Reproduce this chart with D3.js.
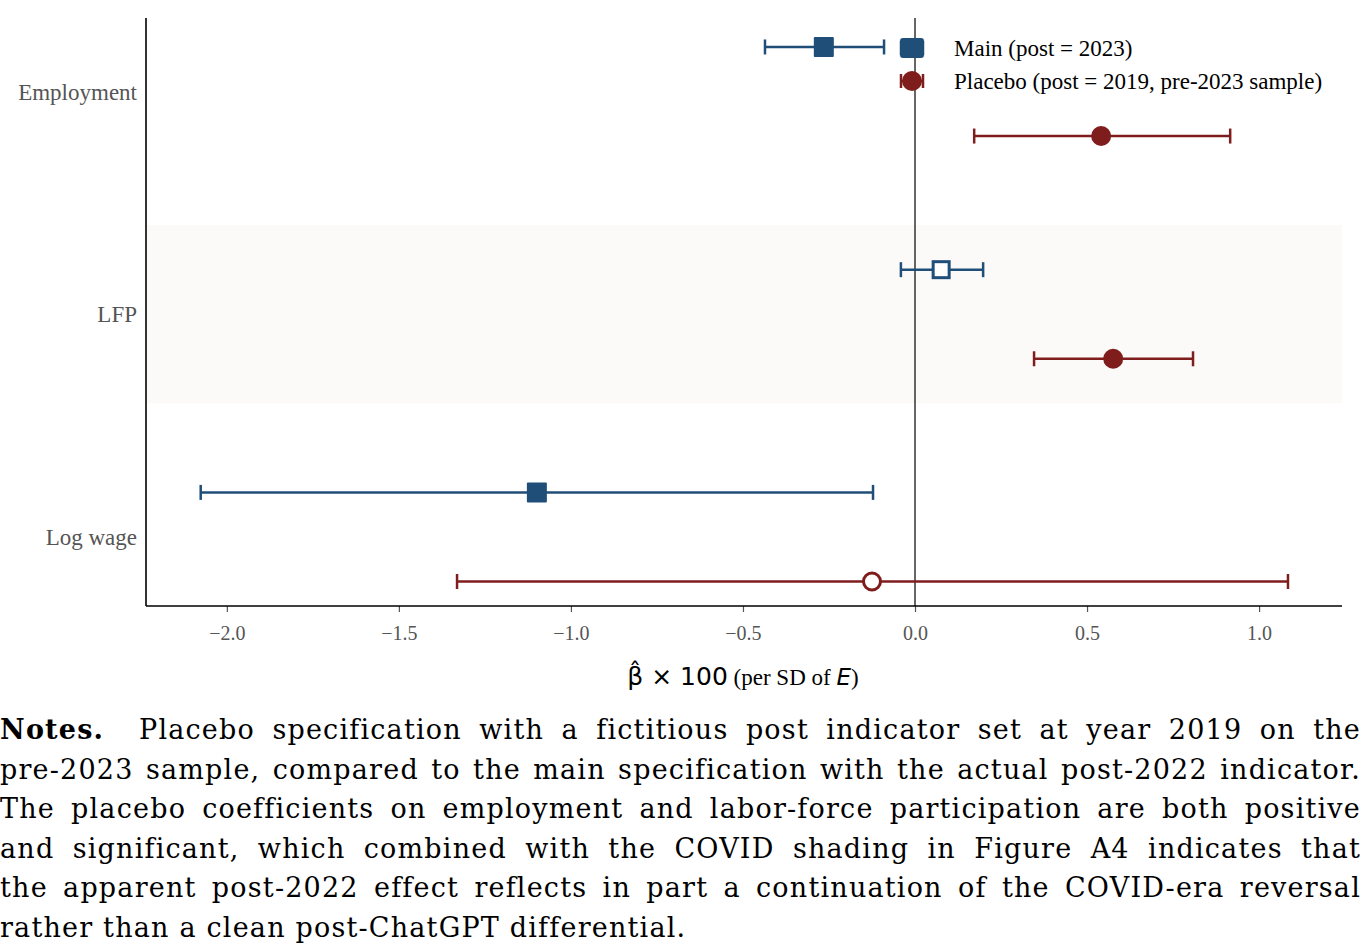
<!DOCTYPE html>
<html>
<head>
  <meta charset="utf-8">
  <style type="text/css">
    body { margin: 0; background: #fff; }
    #chart { position: absolute; left: 0; top: 0; }
    #notes {
      position: absolute; left: 0; top: 710px; width: 1361px;
      font-family: "DejaVu Serif", serif; font-size: 27px; line-height: 39.5px;
      letter-spacing: 1.2px; color: #000;
    }
    #notes div { text-align: justify; text-align-last: justify; white-space: nowrap; }
    #notes div.last { text-align-last: left; }
  </style>
  <script src="https://d3js.org/d3.v7.min.js"></script>
</head>
<body>
  <div id="chart"></div>
  <div id="notes">
    <div><b>Notes.</b>&nbsp; Placebo specification with a fictitious post indicator set at year 2019 on the</div>
    <div>pre-2023 sample, compared to the main specification with the actual post-2022 indicator.</div>
    <div>The placebo coefficients on employment and labor-force participation are both positive</div>
    <div>and significant, which combined with the COVID shading in Figure A4 indicates that</div>
    <div>the apparent post-2022 effect reflects in part a continuation of the COVID-era reversal</div>
    <div class="last">rather than a clean post-ChatGPT differential.</div>
  </div>
  <script type="text/javascript">
  (function() {
    "use strict";

    // data
    var categories = ["Employment", "LFP", "Log wage"];
    var mainEst = [-0.265, 0.076, -1.099];
    var mainLo = [-0.436, -0.041, -2.076];
    var mainHi = [-0.090, 0.198, -0.122];
    var placeboEst = [0.541, 0.576, -0.125];
    var placeboLo = [0.172, 0.346, -1.331];
    var placeboHi = [0.916, 0.808, 1.084];
    var xTicks = [-2.0, -1.5, -1.0, -0.5, 0.0, 0.5, 1.0];

    var blue = "#1f4e79", red = "#7f1d1d";
    var width = 1361, height = 700;
    var left = 146, right = 1342, topY = 18, bottom = 606;

    var svg = d3.select("#chart").append("svg")
      .attr("width", width).attr("height", height);

    var x = d3.scaleLinear().domain([-2.235, 1.241]).range([left, right]);
    var y = d3.scaleLinear().domain([-0.33, 2.31]).range([topY, bottom]);

    // shaded band behind the middle row
    svg.append("rect")
      .attr("x", left).attr("width", right - left)
      .attr("y", y(0.6)).attr("height", y(1.4) - y(0.6))
      .attr("fill", "#fbfaf8");

    // zero line
    svg.append("line")
      .attr("x1", x(0)).attr("x2", x(0))
      .attr("y1", topY).attr("y2", bottom)
      .attr("stroke", "#000").attr("stroke-width", 1.2);

    // build both series
    var series = [
      {name: "Main (post = 2023)", est: mainEst, lo: mainLo, hi: mainHi, color: blue, shape: "square", off: -0.2},
      {name: "Placebo (post = 2019, pre-2023 sample)", est: placeboEst, lo: placeboLo, hi: placeboHi, color: red, shape: "circle", off: 0.2}
    ];

    function drawMarker(g, s, cx, cy, filled, size) {
      if (s.shape == "square") {
        var w = filled ? size : size - 4;
        g.append("rect")
          .attr("x", cx - w / 2).attr("y", cy - w / 2)
          .attr("width", w).attr("height", w)
          .attr("rx", filled ? 1 : 0)
          .attr("fill", filled ? s.color : "#fff")
          .attr("stroke", s.color).attr("stroke-width", filled ? 0 : 3);
      } else {
        var r = filled ? size / 2 : size / 2 - 1.5;
        g.append("circle")
          .attr("cx", cx).attr("cy", cy).attr("r", r)
          .attr("fill", filled ? s.color : "#fff")
          .attr("stroke", s.color).attr("stroke-width", filled ? 0 : 3);
      }
    }

    series.forEach(function(s) {
      var g = svg.append("g");
      categories.forEach(function(c, i) {
        var cy = y(i + s.off);
        var x1 = x(s.lo[i]), x2 = x(s.hi[i]);
        g.append("line").attr("x1", x1).attr("x2", x2).attr("y1", cy).attr("y2", cy)
          .attr("stroke", s.color).attr("stroke-width", 2.5);
        [x1, x2].forEach(function(xx) {
          g.append("line").attr("x1", xx).attr("x2", xx).attr("y1", cy - 7.5).attr("y2", cy + 7.5)
            .attr("stroke", s.color).attr("stroke-width", 2.5);
        });
        var sig = s.lo[i] > 0 || s.hi[i] < 0;
        drawMarker(g, s, x(s.est[i]), cy, sig, 20);
      });
    });

    // axes
    var xAxis = d3.axisBottom(x).tickValues(xTicks).tickSize(6).tickPadding(14)
      .tickFormat(d3.format(".1f"));
    var gx = svg.append("g").attr("transform", "translate(0," + bottom + ")").call(xAxis);
    gx.select(".domain").remove();
    gx.selectAll(".tick line").attr("stroke", "#555").attr("stroke-width", 1.2);
    gx.selectAll(".tick text")
      .attr("fill", "#555").style("font-family", "Liberation Serif").style("font-size", "20px");

    svg.append("line").attr("x1", left).attr("x2", right).attr("y1", bottom).attr("y2", bottom)
      .attr("stroke", "#000").attr("stroke-width", 1.6);
    svg.append("line").attr("x1", left).attr("x2", left).attr("y1", topY).attr("y2", bottom)
      .attr("stroke", "#000").attr("stroke-width", 1.6);

    // category labels
    svg.selectAll(".cat").data(categories).enter().append("text")
      .attr("x", 137).attr("y", function(d, i) { return y(i); })
      .attr("dy", "0.35em").attr("text-anchor", "end")
      .attr("fill", "#555").style("font-family", "Liberation Serif").style("font-size", "23px")
      .text(function(d) { return d; });

    // x label
    var xl = svg.append("text").attr("x", 743).attr("y", 685).attr("text-anchor", "middle");
    xl.append("tspan").style("font-family", "DejaVu Sans").style("font-size", "25px").text("\u03B2\u0302 \u00D7 100");
    xl.append("tspan").style("font-family", "Liberation Serif").style("font-size", "23px").text(" (per SD of ");
    xl.append("tspan").style("font-family", "DejaVu Sans").style("font-style", "italic").style("font-size", "23px").text("E");
    xl.append("tspan").style("font-family", "Liberation Serif").style("font-size", "23px").text(")");

    // legend
    series.forEach(function(s, i) {
      var ly = 48 + i * 33, lx = 912;
      var g = svg.append("g");
      g.append("line").attr("x1", lx - 11).attr("x2", lx + 11).attr("y1", ly).attr("y2", ly)
        .attr("stroke", s.color).attr("stroke-width", 2.5);
      [lx - 11, lx + 11].forEach(function(xx) {
        g.append("line").attr("x1", xx).attr("x2", xx).attr("y1", ly - 7).attr("y2", ly + 7)
          .attr("stroke", s.color).attr("stroke-width", 2.5);
      });
      if (s.shape == "square") {
        g.append("rect").attr("x", lx - 12).attr("y", ly - 10).attr("width", 24).attr("height", 20)
          .attr("rx", 3).attr("fill", s.color);
      } else {
        g.append("circle").attr("cx", lx).attr("cy", ly).attr("r", 10).attr("fill", s.color);
      }
      g.append("text").attr("x", 954).attr("y", ly).attr("dy", "0.35em")
        .style("font-family", "Liberation Serif").style("font-size", "23px").attr("fill", "#000")
        .text(s.name);
    });
  })();
  </script>
</body>
</html>
